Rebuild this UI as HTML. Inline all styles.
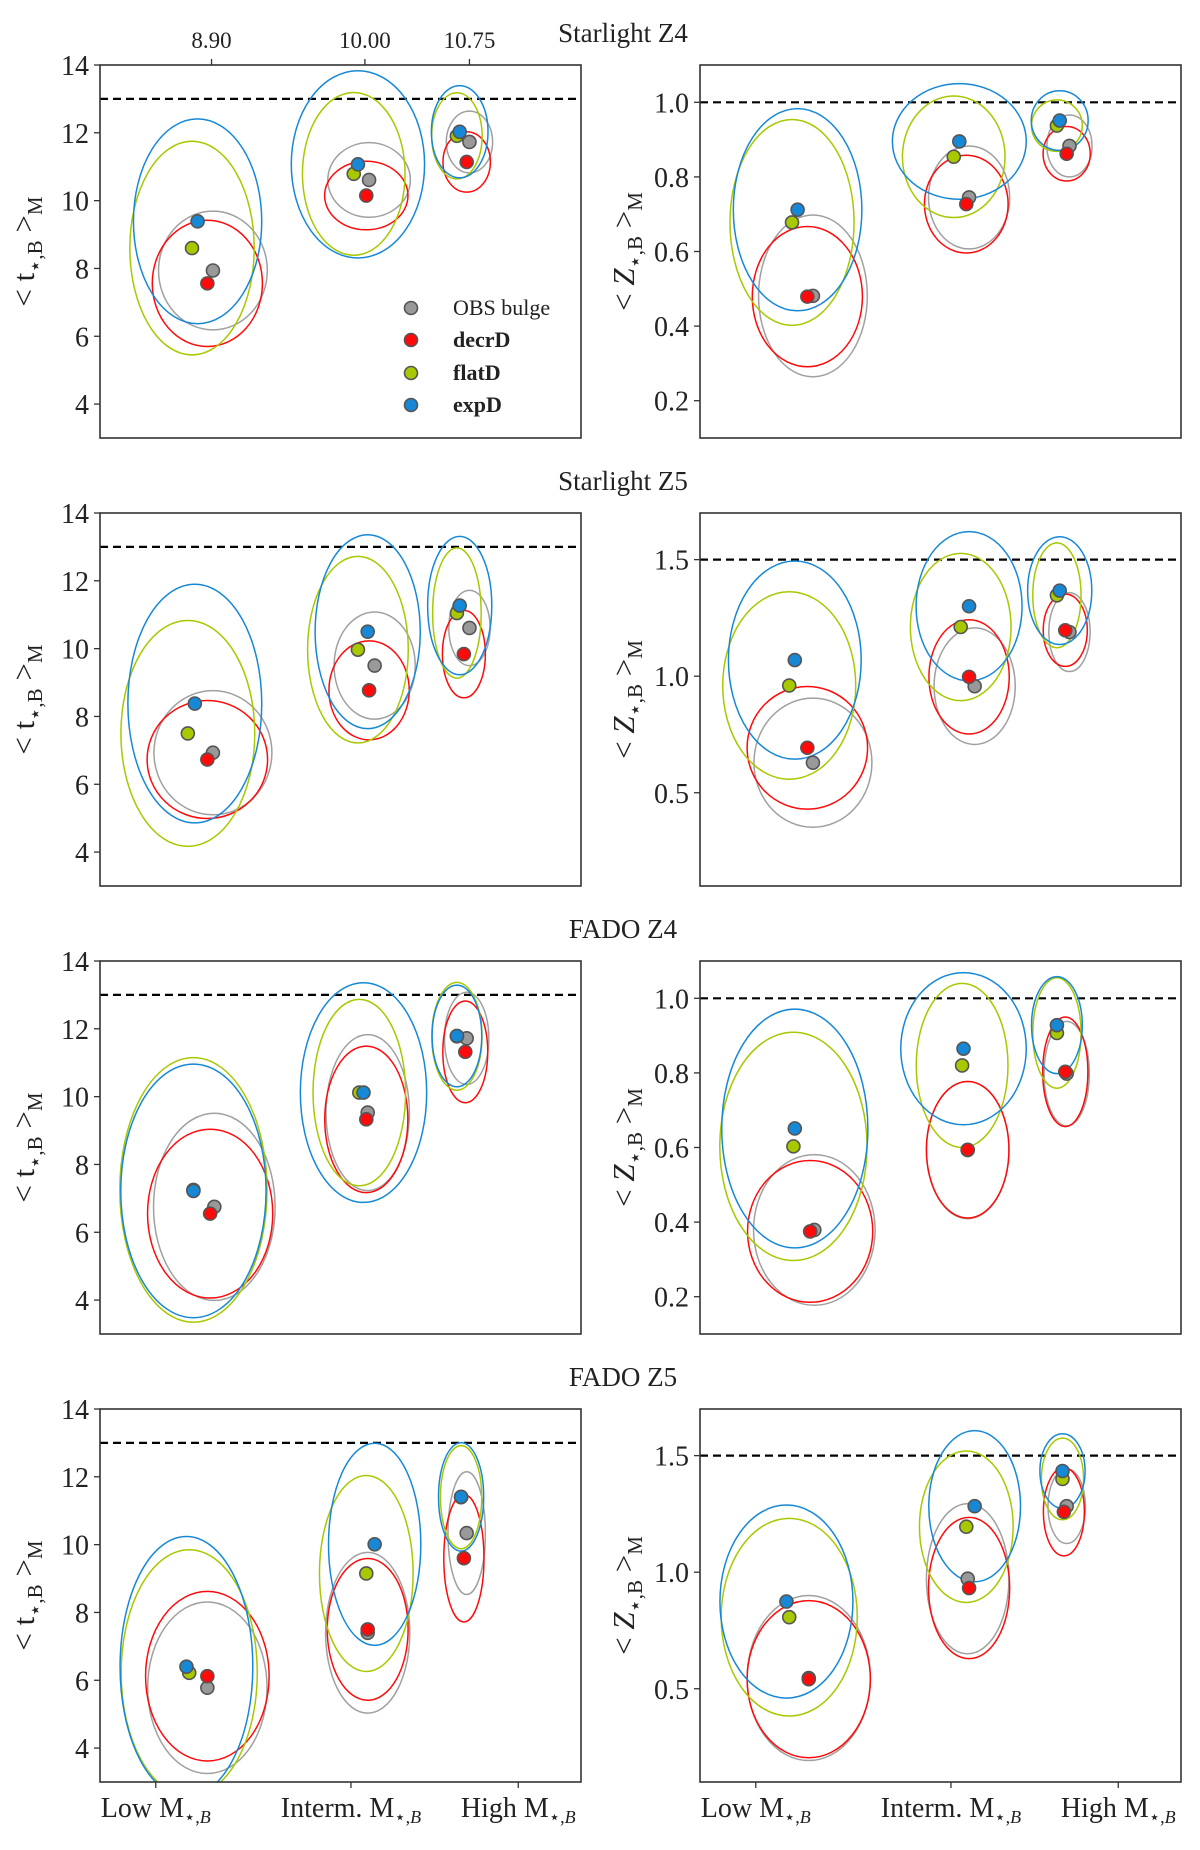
<!DOCTYPE html>
<html><head><meta charset="utf-8"><style>
body{margin:0;background:#fff}
svg{display:block}
text{font-family:"Liberation Serif","DejaVu Serif",serif;fill:#222}
</style></head><body>
<svg id="fig" width="1200" height="1850" viewBox="0 0 1200 1850" xmlns="http://www.w3.org/2000/svg" font-family="Liberation Serif, DejaVu Serif, serif"></svg>
<script>
// ---- data: each row [x (log mass), y, x half-width, y half-width] for Low, Interm., High groups
const seriesNames = ["OBS bulge","decrD","flatD","expD"];
const seriesColors = ["#a0a0a0","#ff0a0a","#a8c800","#1688d6"];
const markerFill = ["#999999","#ff0a0a","#a8c800","#1688d6"];
const topTickVals = [8.90, 10.00, 10.75];
const topTickLabels = ["8.90","10.00","10.75"];
const bottomTickVals = [8.50, 9.90, 11.10];
const bottomTickLabels = ["Low","Interm.","High"];
const ageTicks = [4,6,8,10,12,14];
const z4Ticks = [0.2,0.4,0.6,0.8,1.0];
const z5Ticks = [0.5,1.0,1.5];
const rowTitles = ["Starlight Z4","Starlight Z5","FADO Z4","FADO Z5"];

const p1_obs=[[8.91,7.94,.39,1.75],[10.03,10.61,.296,1.10],[10.75,11.73,.166,.91]];
const p1_decr=[[8.87,7.56,.395,1.86],[10.01,10.15,.299,1.01],[10.73,11.14,.170,.89]];
const p1_flat=[[8.76,8.60,.446,3.15],[9.92,10.79,.368,2.40],[10.66,11.91,.181,1.27]];
const p1_exp=[[8.80,9.39,.46,3.02],[9.95,11.07,.478,2.76],[10.68,12.03,.203,1.36]];

const p2_obs=[[8.91,.481,.39,.217],[10.03,.745,.291,.138],[10.75,.883,.162,.083]];
const p2_decr=[[8.87,.479,.395,.188],[10.01,.727,.30,.131],[10.73,.862,.169,.073]];
const p2_flat=[[8.76,.678,.445,.276],[9.92,.854,.368,.163],[10.66,.9375,.182,.069]];
const p2_exp=[[8.80,.712,.461,.271],[9.96,.895,.48,.155],[10.68,.951,.204,.080]];

const p3_obs=[[8.91,6.93,.423,1.83],[10.07,9.50,.291,1.58],[10.75,10.61,.148,1.11]];
const p3_decr=[[8.87,6.73,.432,1.74],[10.03,8.77,.288,1.46],[10.71,9.84,.154,1.29]];
const p3_flat=[[8.73,7.50,.48,3.33],[9.95,9.97,.361,2.75],[10.66,11.05,.174,1.92]];
const p3_exp=[[8.78,8.38,.48,3.52],[10.02,10.50,.377,2.86],[10.68,11.27,.23,2.04]];

const p4_obs=[[8.91,.629,.423,.277],[10.07,.957,.291,.25],[10.75,1.189,.148,.169]];
const p4_decr=[[8.87,.693,.432,.263],[10.03,.997,.288,.245],[10.72,1.197,.158,.155]];
const p4_flat=[[8.74,.96,.477,.402],[9.97,1.211,.361,.316],[10.66,1.347,.173,.225]];
const p4_exp=[[8.78,1.069,.476,.425],[10.03,1.30,.38,.32],[10.68,1.367,.23,.231]];

const p5_obs=[[8.92,6.75,.436,2.76],[10.02,9.53,.299,2.30],[10.73,11.72,.159,1.36]];
const p5_decr=[[8.89,6.55,.449,2.49],[10.01,9.33,.298,2.16],[10.72,11.32,.161,1.50]];
const p5_flat=[[8.77,7.25,.528,3.90],[9.96,10.12,.332,2.75],[10.66,11.78,.18,1.59]];
const p5_exp=[[8.77,7.22,.521,3.74],[9.99,10.12,.453,3.24],[10.66,11.79,.178,1.50]];

const p6_obs=[[8.92,.379,.436,.202],[10.02,.593,.296,.184],[10.73,.798,.162,.14]];
const p6_decr=[[8.89,.375,.449,.19],[10.02,.594,.296,.183],[10.72,.803,.162,.147]];
const p6_flat=[[8.77,.603,.528,.306],[9.98,.82,.329,.22],[10.66,.907,.173,.148]];
const p6_exp=[[8.78,.651,.524,.32],[9.99,.865,.45,.204],[10.66,.928,.182,.13]];

const p7_obs=[[8.87,5.78,.428,2.53],[10.02,7.40,.302,2.37],[10.73,10.34,.134,1.81]];
const p7_decr=[[8.87,6.12,.443,2.50],[10.02,7.50,.29,2.09],[10.71,9.60,.144,1.88]];
const p7_flat=[[8.74,6.22,.488,3.63],[10.01,9.15,.336,2.89],[10.69,11.40,.148,1.52]];
const p7_exp=[[8.72,6.40,.476,3.84],[10.07,10.01,.331,2.98],[10.69,11.41,.162,1.60]];

const p8_obs=[[8.88,.546,.442,.354],[10.02,.972,.296,.322],[10.73,1.283,.134,.16]];
const p8_decr=[[8.88,.541,.442,.337],[10.03,.932,.291,.303],[10.71,1.259,.147,.189]];
const p8_flat=[[8.74,.807,.488,.424],[10.01,1.195,.336,.325],[10.70,1.40,.151,.175]];
const p8_exp=[[8.72,.874,.477,.414],[10.07,1.283,.329,.324],[10.70,1.434,.162,.16]];

const refLines = [13, 1.0, 13, 1.5, 13, 1.0, 13, 1.5];

const NS="http://www.w3.org/2000/svg";
const svg=document.getElementById('fig');
function mk(tag,attrs,parent){const e=document.createElementNS(NS,tag);for(const k in attrs)e.setAttribute(k,attrs[k]);(parent||svg).appendChild(e);return e;}

const XMIN=8.1,XMAX=11.55,PW=481,PH=373;
const rowTops=[65,513,961,1409];
const colLefts=[100,700];

const panels=[
 {d:[p1_obs,p1_decr,p1_flat,p1_exp],ymin:3,ymax:14,ticks:ageTicks,dec:0,kind:'t'},
 {d:[p2_obs,p2_decr,p2_flat,p2_exp],ymin:0.1,ymax:1.1,ticks:z4Ticks,dec:1,kind:'Z'},
 {d:[p3_obs,p3_decr,p3_flat,p3_exp],ymin:3,ymax:14,ticks:ageTicks,dec:0,kind:'t'},
 {d:[p4_obs,p4_decr,p4_flat,p4_exp],ymin:0.1,ymax:1.7,ticks:z5Ticks,dec:1,kind:'Z'},
 {d:[p5_obs,p5_decr,p5_flat,p5_exp],ymin:3,ymax:14,ticks:ageTicks,dec:0,kind:'t'},
 {d:[p6_obs,p6_decr,p6_flat,p6_exp],ymin:0.1,ymax:1.1,ticks:z4Ticks,dec:1,kind:'Z'},
 {d:[p7_obs,p7_decr,p7_flat,p7_exp],ymin:3,ymax:14,ticks:ageTicks,dec:0,kind:'t'},
 {d:[p8_obs,p8_decr,p8_flat,p8_exp],ymin:0.1,ymax:1.7,ticks:z5Ticks,dec:1,kind:'Z'}
];
const defs=mk('defs',{});

panels.forEach((p,i)=>{
  const row=Math.floor(i/2),col=i%2;
  const L=colLefts[col],T=rowTops[row];
  const xs=v=>L+(v-XMIN)/(XMAX-XMIN)*PW;
  const ys=v=>T+PH-(v-p.ymin)/(p.ymax-p.ymin)*PH;
  const xw=v=>v/(XMAX-XMIN)*PW;
  const yw=v=>v/(p.ymax-p.ymin)*PH;
  const g=mk('g',{});
  
  
  const cp=mk('clipPath',{id:'cp'+i},defs);
  mk('rect',{x:L,y:T,width:PW,height:PH},cp);
  const rl=mk('line',{x1:L,x2:L+PW,y1:ys(refLines[i]),y2:ys(refLines[i]),stroke:'#000','stroke-width':2.2,'stroke-dasharray':'8,5'},g);
  
  
  const eg=mk('g',{'clip-path':'url(#cp'+i+')'},g);
  for(let k=0;k<3;k++){
    for(let s=0;s<4;s++){
      const r=p.d[s][k];
      const e=mk('ellipse',{cx:xs(r[0]),cy:ys(r[1]),rx:xw(r[2]),ry:yw(r[3]),fill:'none',stroke:seriesColors[s],'stroke-width':1.5},eg);
      
      
    }
  }
  for(let k=0;k<3;k++){
    for(let s=0;s<4;s++){
      const r=p.d[s][k];
      const c=mk('circle',{cx:xs(r[0]),cy:ys(r[1]),r:6.5,fill:markerFill[s],stroke:'#555','stroke-width':1.6},g);
      
      
    }
  }
  const fr=mk('rect',{x:L,y:T,width:PW,height:PH,fill:'none',stroke:'#333','stroke-width':1.6},g);
  
  
  p.ticks.forEach(t=>{
    mk('line',{x1:L-6,x2:L,y1:ys(t),y2:ys(t),stroke:'#333','stroke-width':1.3},g);
    const tx=mk('text',{x:L-11,y:ys(t)+10,'text-anchor':'end','font-size':28},g);
    tx.textContent=t.toFixed(p.dec);
    
    
  });
  const yt=mk('text',{transform:`translate(${L-66},${T+PH/2}) rotate(-90)`,'text-anchor':'middle','font-size':31},g);
  
  
  yt.innerHTML=`&lt; ${p.kind=='t'?'t':'<tspan font-style="italic">Z</tspan>'}<tspan font-size="21" dy="8">⋆,B</tspan><tspan dy="-8"> &gt;</tspan><tspan font-size="21" dy="8">M</tspan>`;
  if(row===0&&col===0){
    topTickVals.forEach((v,j)=>{
      mk('line',{x1:xs(v),x2:xs(v),y1:T-6,y2:T,stroke:'#333','stroke-width':1.3},g);
      const tt=mk('text',{x:xs(v),y:T-17,'text-anchor':'middle','font-size':23},g);
      tt.textContent=topTickLabels[j];
      
      
    });
  }
  if(row===3){
    bottomTickVals.forEach((v,j)=>{
      mk('line',{x1:xs(v),x2:xs(v),y1:T+PH,y2:T+PH+6,stroke:'#333','stroke-width':1.3},g);
      const bt=mk('text',{x:xs(v),y:T+PH+35,'text-anchor':'middle','font-size':28},g);
      bt.innerHTML=bottomTickLabels[j]+' M<tspan font-size="18" dy="6">⋆,<tspan font-style="italic">B</tspan></tspan>';
      
      
    });
  }
});
rowTitles.forEach((t,r)=>{
  const tt=mk('text',{x:623,y:rowTops[r]-23,'text-anchor':'middle','font-size':27});
  tt.textContent=t;
  
  
});
const lg=mk('g',{});


const legY=[308,340,373,405];
seriesNames.forEach((n,s)=>{
  mk('circle',{cx:411,cy:legY[s],r:6.5,fill:markerFill[s],stroke:'#555','stroke-width':1.6},lg);
  const t=mk('text',{x:453,y:legY[s]+7,'font-size':22,'font-weight':s?'bold':'normal'},lg);
  t.textContent=n;
  
  
});
</script>
</body></html>
